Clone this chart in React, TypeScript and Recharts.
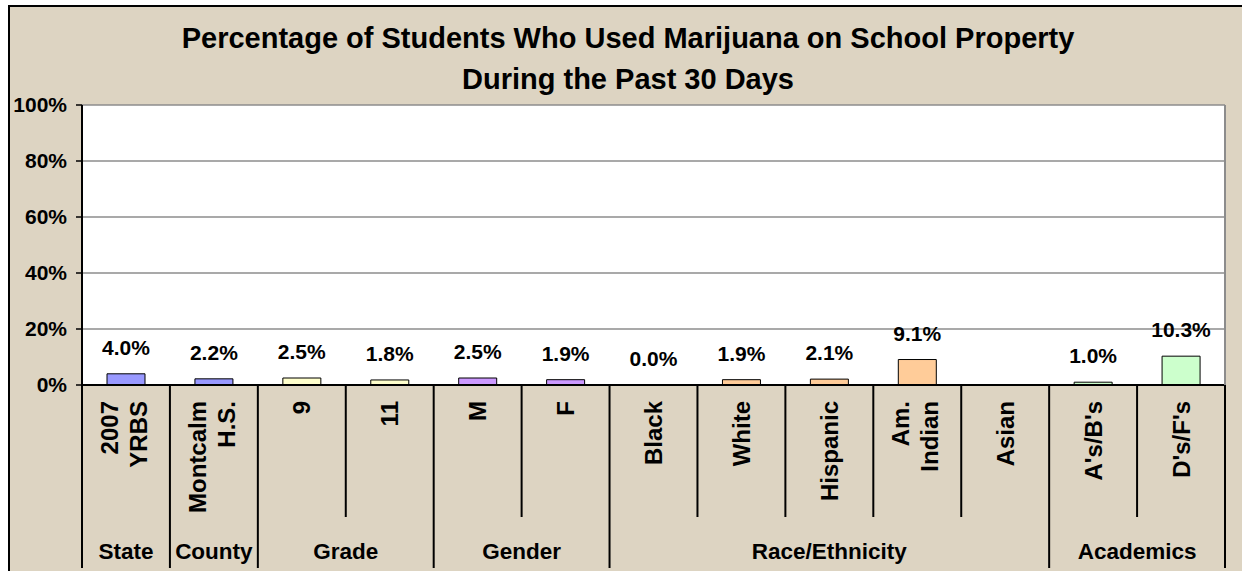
import React from "react";
import { Bar, CartesianGrid, Cell, ComposedChart, LabelList, Line, XAxis, YAxis } from "recharts";

const categoryLines: string[][] = [
  ["2007", "YRBS"],
  ["Montcalm", "H.S."],
  ["9"],
  ["11"],
  ["M"],
  ["F"],
  ["Black"],
  ["White"],
  ["Hispanic"],
  ["Am.", "Indian"],
  ["Asian"],
  ["A's/B's"],
  ["D's/F's"],
];
const values: (number | null)[] = [4.0, 2.2, 2.5, 1.8, 2.5, 1.9, 0.0, 1.9, 2.1, 9.1, null, 1.0, 10.3];
const groupNames = ["State", "County", "Grade", "Gender", "Race/Ethnicity", "Academics"];
const groupSizes = [1, 1, 2, 2, 5, 2];
const groupColors = ["#9999ff", "#9999ff", "#ffffcc", "#cc99ff", "#ffcc99", "#ccffcc"];
const yTicks = [0, 20, 40, 60, 80, 100];
const titleLines = ["Percentage of Students Who Used Marijuana on School Property", "During the Past 30 Days"];

const FONT = "'Liberation Sans', Arial, sans-serif";
const W = 1242;
const H = 571;

// which group each category belongs to, and where each group starts
const groupOf: number[] = [];
const groupStart: number[] = [];
groupSizes.forEach((n, g) => {
  groupStart.push(groupOf.length);
  for (let k = 0; k < n; k++) groupOf.push(g);
});

const rows = categoryLines.map((lines, i) => ({
  key: lines.join(" "),
  value: values[i],
  color: groupColors[groupOf[i]],
}));

function CategoryTick(props: any) {
  const { x, y, payload, index } = props;
  const half = payload?.offset ?? 44;
  const band = half * 2;
  const g = groupOf[index];
  const isStart = groupStart[g] === index;
  const isLast = index === categoryLines.length - 1;
  const lines = categoryLines[index];
  const shift = lines.length > 1 ? -2 : 0;
  return (
    <g>
      <line x1={x - half} x2={x - half} y1={y} y2={y + (isStart ? 183 : 132)} stroke="#000" strokeWidth={2} />
      {isLast && <line x1={x + half} x2={x + half} y1={y} y2={y + 183} stroke="#000" strokeWidth={2} />}
      {lines.map((t, k) => {
        const lx = x + (k - (lines.length - 1) / 2) * 29 + shift;
        const ly = y + 16;
        return (
          <text
            key={k}
            x={lx}
            y={ly}
            dy="0.36em"
            transform={`rotate(-90 ${lx} ${ly})`}
            textAnchor="end"
            fontFamily={FONT}
            fontWeight="bold"
            fontSize={24}
            fill="#000"
          >
            {t}
          </text>
        );
      })}
      {isStart && (
        <text
          x={x - half + (groupSizes[g] * band) / 2}
          y={y + 174}
          textAnchor="middle"
          fontFamily={FONT}
          fontWeight="bold"
          fontSize={22.5}
          fill="#000"
        >
          {groupNames[g]}
        </text>
      )}
    </g>
  );
}

export default function App() {
  return (
    <div style={{ position: "absolute", left: 0, top: 0, width: W, height: H, background: "#fff", overflow: "hidden" }}>
      <div
        style={{
          position: "absolute",
          left: 8,
          top: 5,
          width: W,
          height: H,
          background: "#ddd4c2",
          borderTop: "2px solid #000",
          borderLeft: "2px solid #000",
        }}
      />
      <svg width={W} height={H} style={{ position: "absolute", left: 0, top: 0 }}>
        {titleLines.map((t, i) => (
          <text
            key={i}
            x={628}
            y={48 + i * 41}
            textAnchor="middle"
            fontFamily={FONT}
            fontWeight="bold"
            fontSize={29}
            fill="#000"
          >
            {t}
          </text>
        ))}
      </svg>
      <div style={{ position: "absolute", left: 0, top: 0 }}>
        <ComposedChart width={W} height={H} data={rows} margin={{ top: 105, right: 0, bottom: 0, left: 0 }} barCategoryGap={0}>
          <CartesianGrid vertical={false} stroke="#8c8c8c" strokeWidth={1.5} fill="#ffffff" />
          <XAxis
            dataKey="key"
            height={186}
            interval={0}
            tickSize={0}
            tickMargin={0}
            tickLine={false}
            axisLine={{ stroke: "#000", strokeWidth: 2 }}
            tick={(p: any) => <CategoryTick {...p} />}
          />
          <YAxis
            width={82}
            domain={[0, 100]}
            ticks={yTicks}
            interval={0}
            tickSize={6}
            tickMargin={9}
            tickFormatter={(v: number) => `${v}%`}
            tick={{ fontFamily: FONT, fontWeight: "bold", fontSize: 21, fill: "#000" }}
            tickLine={{ stroke: "#000", strokeWidth: 1.5 }}
            axisLine={{ stroke: "#000", strokeWidth: 2 }}
          />
          <YAxis
            yAxisId="r"
            orientation="right"
            width={17}
            domain={[0, 100]}
            tick={false}
            tickLine={false}
            axisLine={{ stroke: "#8c8c8c", strokeWidth: 2 }}
          />
          <Bar dataKey="value" barSize={38} stroke="#000" strokeWidth={1} isAnimationActive={false}>
            {rows.map((r, i) => (
              <Cell key={i} fill={r.color} />
            ))}
          </Bar>
          {/* invisible series that carries the value labels, so 0.0% gets one too */}
          <Line
            dataKey="value"
            stroke="none"
            dot={false}
            activeDot={false}
            legendType="none"
            isAnimationActive={false}
          >
            <LabelList
              dataKey="value"
              position="top"
              offset={19}
              formatter={(v: any) => (v == null ? "" : `${Number(v).toFixed(1)}%`)}
              fontFamily={FONT}
              fontWeight="bold"
              fontSize={21}
              fill="#000"
            />
          </Line>
        </ComposedChart>
      </div>
    </div>
  );
}
